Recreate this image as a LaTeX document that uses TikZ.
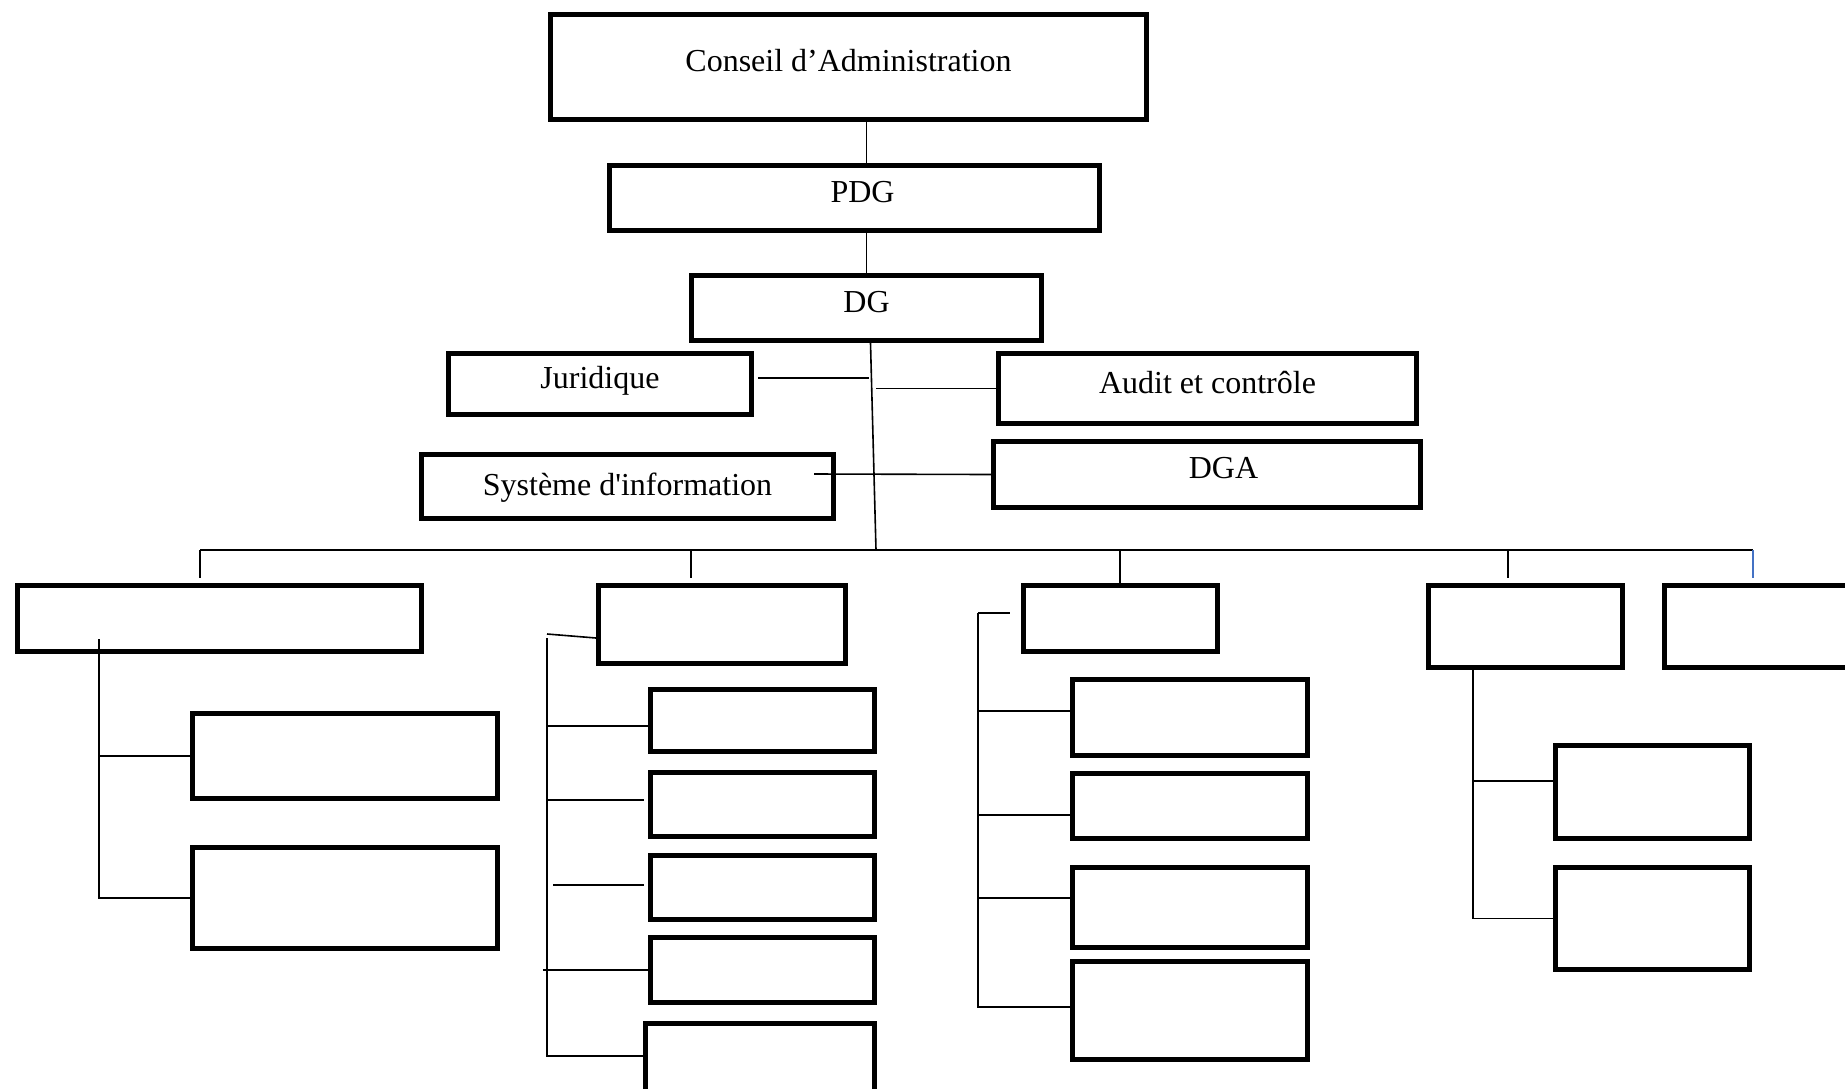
\documentclass[tikz,border=0pt]{standalone}
\usepackage{fontspec}
\setmainfont{Liberation Serif}
\usetikzlibrary{positioning}
\definecolor{wordblue}{RGB}{68,114,196}

\begin{document}
\begin{tikzpicture}[
            x=1pt, y=-1pt,
            unit/.style={draw, line width=5pt, rectangle, inner sep=0pt, align=center, font=\fontsize{32}{38}\selectfont, text depth=13pt},
            dims/.style 2 args={minimum width=#1pt, minimum height=#2pt},
            link/.style={line width=1.6pt}
  ]

  \useasboundingbox (0,0) rectangle (1845,1088);

  \node[unit, dims={596}{105}] (conseil) at (848.5,67) {Conseil d’Administration};
  \node[unit, dims={490}{65}] (pdg) at (854.5,198) {\hspace*{16pt}PDG};
  \node[unit, dims={350}{65}] (dg) at (866.5,308) {DG};
  \node[unit, dims={303}{61}] (juridique) at (600,384) {Juridique};
  \node[unit, dims={418}{70}] (audit) at (1207.5,388.5) {Audit et contrôle};
  \node[unit, dims={412}{64}, text depth=4pt] (sysinfo) at (627.5,486.5) {Système d\textquotesingle information};
  \node[unit, dims={427}{66}] (dga) at (1207,474.5) {\hspace*{33pt}DGA};

  \node[unit, dims={404}{66}] (dir1) at (219.5,618.5) {};
  \node[unit, dims={247}{78}] (dir2) at (722,624.5) {};
  \node[unit, dims={194}{66}] (dir3) at (1120.5,618.5) {};
  \node[unit, dims={194}{82}] (dir4) at (1525.5,626.5) {};
  \node[unit, dims={218}{82}] (dir5) at (1773.5,626.5) {};

  \node[unit, dims={305}{85}] (serv1a) at (345,756) {};
  \node[unit, dims={305}{101}] (serv1b) at (345,898) {};

  \node[unit, dims={224}{62}] (serv2a) at (762.5,720.5) {};
  \node[unit, dims={224}{64}] (serv2b) at (762.5,804.5) {};
  \node[unit, dims={224}{64}] (serv2c) at (762.5,887.5) {};
  \node[unit, dims={224}{65}] (serv2d) at (762.5,970) {};
  \node[unit, dims={229}{74.5}] (serv2e) at (760,1060.75) {};

  \node[unit, dims={235}{76}] (serv3a) at (1190,717.5) {};
  \node[unit, dims={235}{65}] (serv3b) at (1190,806) {};
  \node[unit, dims={235}{80}] (serv3c) at (1190,907.5) {};
  \node[unit, dims={235}{98}] (serv3d) at (1190,1010.5) {};

  \node[unit, dims={194}{93}] (serv4a) at (1652.5,792) {};
  \node[unit, dims={194}{102}] (serv4b) at (1652.5,918.5) {};

  \coordinate (trunk) at (876,550);
  \coordinate (busl) at (200,550);
  \coordinate (busr) at (1753,550);
  \coordinate (drop2) at (691,550);
  \coordinate (drop3) at (1120,550);
  \coordinate (drop4) at (1508,550);
  \coordinate (col1) at (99,639);
  \coordinate (col2) at (547,638);
  \coordinate (col3) at (978,613);
  \coordinate (col4) at (1473,670);

  \draw[link] (dg.north |- conseil.south) -- (dg.north |- pdg.north);
  \draw[link] (dg.north |- pdg.south) -- (dg.north);
  \draw[link] ([xshift=4pt]dg.south) -- (trunk);

  \draw[link] ([xshift=4pt,yshift=6pt]juridique.east) -- ([xshift=2pt,yshift=6pt]juridique.east -| dg.south);
  \draw[link] (audit.west -| trunk) -- (audit.west);
  \draw[link] ([xshift=-22pt,yshift=12.5pt]sysinfo.east) -- (dga.west);

  \draw[link] (busl) -- (busr);
  \draw[link, shorten >=5pt] (busl) -- (busl |- dir1.north);
  \draw[link, shorten >=5pt] (drop2) -- (drop2 |- dir2.north);
  \draw[link] (drop3) -- (drop3 |- dir3.north);
  \draw[link, shorten >=5pt] (drop4) -- (drop4 |- dir4.north);
  \draw[link, wordblue, shorten >=5pt] (busr) -- (busr |- dir5.north);

  \draw[link] (col1) |- (serv1b.west);
  \draw[link] (col1 |- serv1a.west) -- (serv1a.west);

  \draw[link] ([yshift=4pt]col2) -- ([yshift=-13.5pt]dir2.west);
  \draw[link] (col2) |- ([yshift=4.75pt]serv2e.west);
  \draw[link] ([yshift=-5.5pt]serv2a.west -| col2) -- ([yshift=-5.5pt]serv2a.west);
  \draw[link, shorten >=4pt] ([yshift=4.5pt]serv2b.west -| col2) -- ([yshift=4.5pt]serv2b.west);
  \draw[link, shorten <=6pt, shorten >=4pt] ([yshift=2.5pt]serv2c.west -| col2) -- ([yshift=2.5pt]serv2c.west);
  \draw[link, shorten <=-4pt] (serv2d.west -| col2) -- (serv2d.west);

  \draw[link, shorten >=11pt] (col3) -- (col3 -| dir3.west);
  \draw[link] (col3) |- ([yshift=3.5pt]serv3d.west);
  \draw[link] ([yshift=6.5pt]serv3a.west -| col3) -- ([yshift=6.5pt]serv3a.west);
  \draw[link] ([yshift=-9pt]serv3b.west -| col3) -- ([yshift=-9pt]serv3b.west);
  \draw[link] ([yshift=9.5pt]serv3c.west -| col3) -- ([yshift=9.5pt]serv3c.west);

  \draw[link] (col4) |- (serv4b.west);
  \draw[link] ([yshift=11pt]serv4a.west -| col4) -- ([yshift=11pt]serv4a.west);

\end{tikzpicture}
\end{document}
